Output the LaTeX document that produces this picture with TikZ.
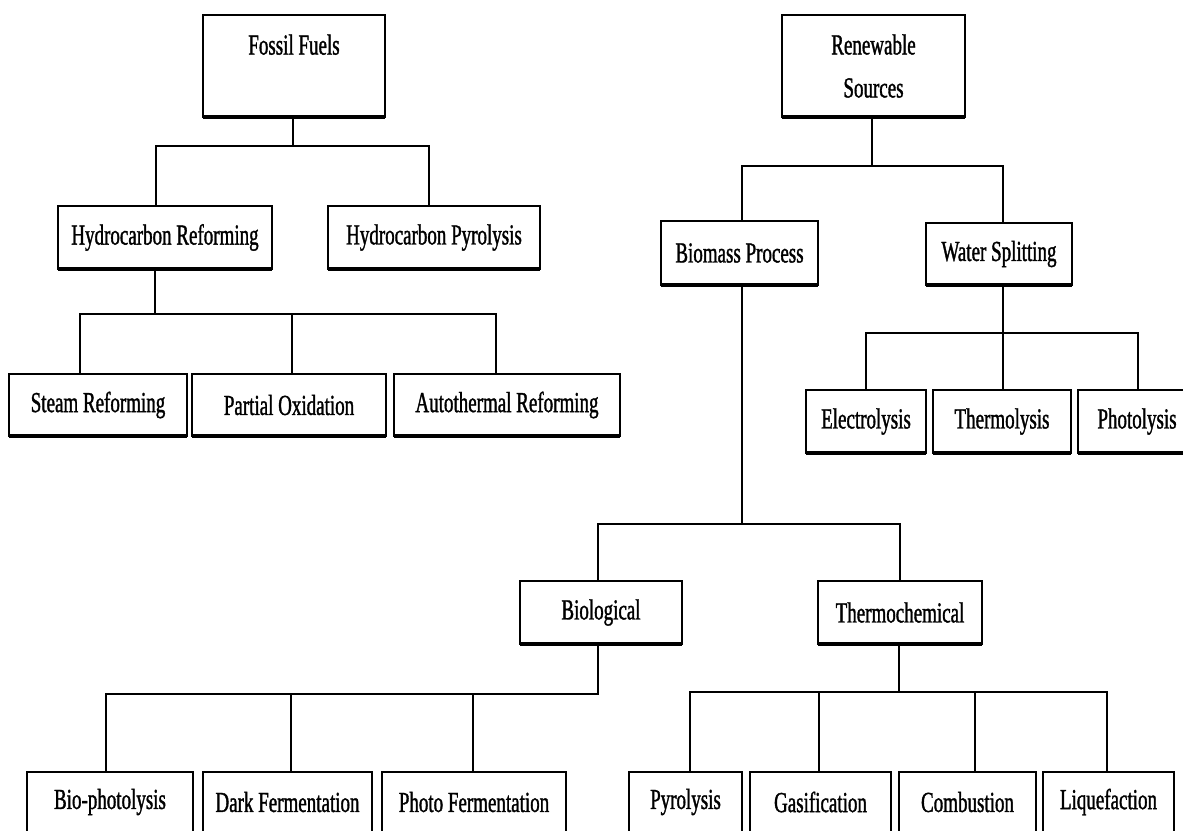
\documentclass[tikz,border=0pt]{standalone}
\usepackage{fontspec}
\setmainfont{Liberation Serif}[FakeStretch=0.655,FakeBold=1.2]
\begin{document}
\begin{tikzpicture}[x=1pt,y=-1pt,
  box/.style={draw=black, line width=1.8pt, inner sep=0pt, outer sep=0pt, align=center,
    font=\fontsize{29}{43}\selectfont},
  conn/.style={line width=2pt, draw=black},
  bot/.style={line width=3.4pt, draw=black}]
\useasboundingbox (0,0) rectangle (1183,830);
\clip (0,0) rectangle (1183,830);
\fill[white] (0,0) rectangle (1183,830);

% top level
\node[box, minimum width=182pt, minimum height=102pt] (FF) at (294,66) {Fossil Fuels\\\mbox{}};
\node[box, minimum width=183pt, minimum height=102pt] (RS) at (873.5,66) {Renewable\\Sources};

% second level
\node[box, minimum width=214pt, minimum height=63pt] (HR) at (165,237.5) {Hydrocarbon Reforming};
\node[box, minimum width=212pt, minimum height=63pt] (HP) at (434,237.5) {Hydrocarbon Pyrolysis};
\node[box, minimum width=157pt, minimum height=64pt] (BP) at (739.5,253) {Biomass Process};
\node[box, minimum width=146pt, minimum height=62pt] (WS) at (999,254) {Water Splitting};

% third level
\node[box, minimum width=178pt, minimum height=62pt] (SR) at (98,405) {Steam Reforming};
\node[box, minimum width=194pt, minimum height=62pt] (PO) at (289,405) {Partial Oxidation};
\node[box, minimum width=226pt, minimum height=62pt] (AR) at (507,405) {Autothermal Reforming};
\node[box, minimum width=120pt, minimum height=63pt] (EL) at (866,421.5) {Electrolysis};
\node[box, minimum width=138pt, minimum height=63pt] (TH) at (1002,421.5) {Thermolysis};
\node[box, minimum width=118pt, minimum height=63pt] (PH) at (1137,421.5) {Photolysis};

% fourth level
\node[box, minimum width=162pt, minimum height=63pt] (BI) at (601,612.5) {Biological};
\node[box, minimum width=164pt, minimum height=63pt] (TC) at (900,612.5) {Thermochemical};

% bottom level
\node[box, minimum width=166pt, minimum height=60pt] (BPh) at (110,802) {Bio-photolysis};
\node[box, minimum width=169pt, minimum height=60pt] (DF) at (287.5,802) {Dark Fermentation};
\node[box, minimum width=184pt, minimum height=60pt] (PF) at (474,802) {Photo Fermentation};
\node[box, minimum width=113pt, minimum height=60pt] (PY) at (685.5,802) {Pyrolysis};
\node[box, minimum width=141pt, minimum height=60pt] (GA) at (820.5,802) {Gasification};
\node[box, minimum width=137pt, minimum height=60pt] (CO) at (967.5,802) {Combustion};
\node[box, minimum width=131pt, minimum height=60pt] (LI) at (1108.5,802) {Liquefaction};

% thicker bottom edges
\foreach \n in {FF,RS,HR,HP,BP,WS,SR,PO,AR,EL,TH,PH,BI,TC}
  \draw[bot] (\n.south west) -- (\n.south east);

% Fossil fuels group
\coordinate (a0) at (293,146);
\coordinate (aL) at (156,146);
\coordinate (aR) at (429,146);
\draw[conn] (FF.south -| a0) -- (a0);
\draw[conn] (HR.north -| aL) -- (aL) -- (aR) -- (HP.north -| aR);

% Hydrocarbon reforming group
\coordinate (b0) at (155,314);
\coordinate (bL) at (80,314);
\coordinate (bM) at (292,314);
\coordinate (bR) at (496,314);
\draw[conn] (HR.south -| b0) -- (b0);
\draw[conn] (SR.north -| bL) -- (bL) -- (bR) -- (AR.north -| bR);
\draw[conn] (bM) -- (PO.north -| bM);

% Renewable group
\coordinate (c0) at (872,166);
\coordinate (cL) at (742,166);
\coordinate (cR) at (1003,166);
\draw[conn] (RS.south -| c0) -- (c0);
\draw[conn] (BP.north -| cL) -- (cL) -- (cR) -- (WS.north -| cR);

% Water splitting group
\coordinate (d0) at (1003,333);
\coordinate (dL) at (866,333);
\coordinate (dR) at (1138,333);
\draw[conn] (WS.south -| d0) -- (d0) -- (TH.north -| d0);
\draw[conn] (EL.north -| dL) -- (dL) -- (dR) -- (PH.north -| dR);

% Biomass group
\coordinate (e0) at (742,524);
\coordinate (eL) at (598,524);
\coordinate (eR) at (900,524);
\draw[conn] (BP.south -| e0) -- (e0);
\draw[conn] (BI.north -| eL) -- (eL) -- (eR) -- (TC.north -| eR);

% Biological group
\coordinate (f0) at (598,694);
\coordinate (fL) at (106,694);
\coordinate (fM) at (291,694);
\coordinate (fR) at (473,694);
\draw[conn] (BI.south -| f0) -- (f0) -- (fL) -- (BPh.north -| fL);
\draw[conn] (fM) -- (DF.north -| fM);
\draw[conn] (fR) -- (PF.north -| fR);

% Thermochemical group
\coordinate (g0) at (899,692);
\coordinate (gL) at (690,692);
\coordinate (g2) at (819,692);
\coordinate (g3) at (975,692);
\coordinate (gR) at (1107,692);
\draw[conn] (TC.south -| g0) -- (g0);
\draw[conn] (PY.north -| gL) -- (gL) -- (gR) -- (LI.north -| gR);
\draw[conn] (g2) -- (GA.north -| g2);
\draw[conn] (g3) -- (CO.north -| g3);
\end{tikzpicture}
\end{document}
